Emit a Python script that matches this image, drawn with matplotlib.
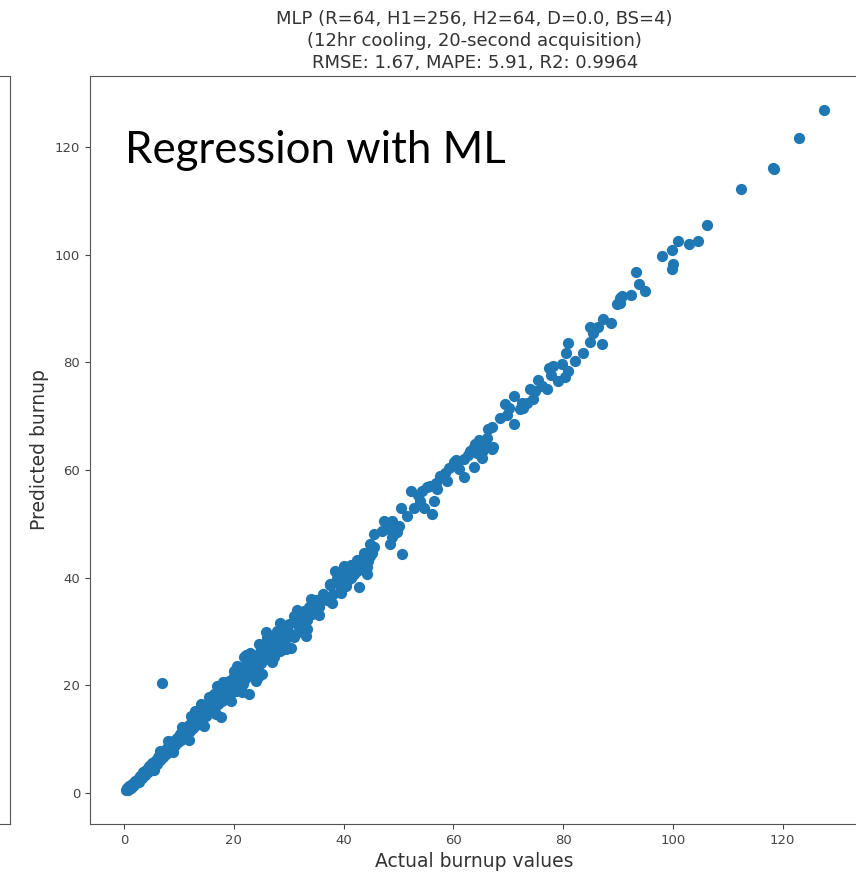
import numpy as np
import matplotlib.pyplot as plt

# actual vs predicted burnup
actual_low = [0.3, 0.5, 0.8, 1.0, 1.2, 1.5, 1.7, 2.0, 2.2, 2.5, 2.7, 3.0, 3.2, 3.5, 3.8, 4.0, 4.3, 4.6, 4.9,
              5.1, 5.4, 5.7, 6.0, 6.2, 6.5, 6.8, 7.1, 7.4, 7.6, 7.9, 8.2, 8.5, 8.8, 9.0, 9.3, 9.6, 9.9,
              10.2, 10.4, 10.7, 11.0, 11.3, 11.5, 11.8, 12.1, 12.4, 12.6, 12.9, 13.2, 13.5, 13.8, 14.0,
              14.3, 14.6, 14.9, 15.2, 15.5, 15.8, 16.0, 16.3, 16.6, 16.9, 17.2, 17.5, 17.8, 18.1, 18.4,
              18.7, 19.0, 19.3, 19.6, 19.9, 20.2, 20.5, 20.8, 21.1, 21.4, 21.7, 22.0, 22.3, 22.6, 22.9,
              23.2, 23.5, 23.8, 24.1, 24.4, 24.7, 25.0, 25.3, 25.6, 25.9, 26.2, 26.5, 26.8, 27.1, 27.4,
              27.7, 28.0, 28.3, 28.6, 28.9, 29.2, 29.5, 29.8, 30.1]
pred_low = [0.6, 0.9, 0.5, 1.3, 0.9, 1.7, 1.2, 2.2, 1.8, 2.6, 2.1, 3.2, 2.7, 3.8, 3.3, 4.3, 3.8, 4.9, 4.4,
            5.5, 4.9, 6.0, 5.4, 6.6, 6.1, 7.2, 6.6, 7.8, 7.2, 8.4, 7.7, 9.0, 8.3, 9.7, 8.9, 10.2, 9.4,
            10.9, 9.9, 11.4, 10.5, 12.1, 11.0, 12.6, 11.4, 13.3, 12.0, 13.9, 12.6, 14.5, 13.2, 15.1,
            13.7, 15.8, 14.3, 16.4, 14.8, 17.0, 15.4, 17.5, 15.9, 18.1, 16.5, 18.6, 17.0, 19.4, 17.6,
            20.1, 18.2, 20.5, 18.7, 21.4, 19.3, 21.8, 19.9, 22.5, 20.6, 23.1, 21.2, 23.6, 21.8, 24.3,
            22.4, 24.9, 23.0, 25.5, 23.6, 26.1, 24.2, 26.7, 24.8, 27.2, 25.4, 27.8, 26.0, 28.5, 26.6,
            29.1, 27.2, 29.6, 27.8, 30.2, 28.4, 30.8, 29.0, 31.3]

# points on the outer edges of the band
actual_edge = [5.5, 6.5, 8.0, 9.0, 10.5, 11.8, 13.0, 14.5, 15.5, 16.8, 18.0, 19.5, 20.5, 21.5, 23.0,
               24.5, 26.0, 27.0, 28.5, 29.5, 31.5, 32.5, 34.0, 35.5, 12.2, 17.0, 22.2, 25.8]
pred_edge = [4.3, 7.8, 9.6, 7.6, 12.3, 9.8, 15.2, 12.4, 17.8, 14.6, 20.5, 17.0, 23.5, 18.8, 26.0,
             21.6, 28.8, 24.4, 31.5, 26.8, 34.0, 29.8, 36.0, 33.0, 14.2, 19.8, 25.6, 29.9]

actual_band = [14.0, 14.9, 15.8, 16.4, 17.3, 17.6, 17.9, 18.9, 19.1, 20.1, 20.4, 20.7, 21.6, 21.6, 21.9,
               22.5, 22.8, 23.1, 23.7, 24.0, 24.6, 25.2, 25.8, 26.7, 27.3, 27.6, 27.9, 28.5, 29.1, 29.5,
               30.4, 31.0, 31.0, 31.9, 32.8, 33.1, 33.4, 33.4, 34.3, 35.5, 37.0, 37.6, 37.9, 38.5, 38.9,
               39.2, 39.5, 39.5, 40.1, 40.4, 40.7, 41.3, 41.3, 42.5, 42.8, 43.4, 43.7, 43.7, 44.3, 44.3,
               44.9, 44.9, 45.2, 45.5, 45.5,
               30.5, 31.2, 31.8, 32.4, 33.0, 33.7, 34.3, 35.0, 35.6, 36.2, 36.9, 37.5, 38.1, 38.8, 39.4,
               40.0, 40.6, 41.3, 41.9, 42.5, 43.1, 43.8, 44.4, 45.0]
pred_band = [16.5, 15.9, 17.1, 18.4, 19.6, 14.0, 17.4, 19.2, 20.8, 22.7, 19.0, 21.4, 23.3, 20.2, 25.2,
             21.7, 18.4, 23.3, 24.8, 20.8, 27.6, 22.1, 26.1, 27.0, 25.2, 28.3, 30.1, 26.4, 28.3, 30.4,
             27.0, 32.9, 28.9, 31.6, 33.8, 29.2, 32.2, 30.4, 34.8, 35.3, 36.3, 38.8, 35.3, 41.3, 40.6,
             39.4, 37.8, 37.2, 42.2, 38.5, 41.9, 40.3, 40.0, 41.3, 38.2, 42.8, 44.3, 42.5, 41.9, 40.6,
             46.2, 44.1, 44.6, 48.1, 45.6,
             29.6, 32.4, 30.9, 33.5, 31.8, 34.6, 33.2, 35.9, 34.5, 37.0, 35.8, 38.6, 37.0, 39.9, 38.4,
             41.0, 39.3, 42.3, 40.6, 43.2, 41.7, 44.6, 43.0, 45.8]

actual_mid = [47.0, 47.3, 48.2, 48.5, 48.8, 48.8, 49.8, 50.1, 50.4, 50.7, 51.6, 52.2, 52.8, 53.5, 54.0,
              54.3, 54.6, 55.2, 55.8, 56.1, 56.4, 56.8, 57.0, 57.5, 58.5, 58.8, 59.2, 60.1, 60.5, 60.7,
              61.0, 61.9, 61.9, 62.6, 63.1, 63.7, 63.7, 64.0, 64.3, 64.6, 65.2, 65.2, 65.5, 66.1, 66.4,
              67.0, 67.0, 67.3, 68.5, 69.5, 69.8, 70.2, 71.0, 71.0, 72.2, 72.5, 72.7, 73.4, 74.0, 74.6,
              74.9, 75.5, 76.1, 77.0, 77.5, 77.8, 78.2, 79.0, 79.8, 80.4, 80.5, 80.8, 80.8, 82.2, 83.7,
              84.9, 84.9, 85.5, 86.4, 87.0, 87.3, 88.8, 89.9]
pred_mid = [48.7, 50.6, 49.0, 46.2, 50.6, 47.5, 48.4, 49.6, 53.0, 44.3, 51.5, 56.1, 53.0, 55.3, 54.3,
            56.1, 53.0, 56.8, 57.1, 51.8, 54.3, 57.6, 56.4, 58.9, 59.5, 58.0, 60.3, 61.4, 61.9, 61.1,
            60.2, 62.0, 58.6, 62.8, 63.6, 60.5, 64.2, 64.8, 63.2, 65.5, 62.3, 63.3, 64.8, 66.0, 67.6,
            67.9, 63.9, 64.2, 69.7, 72.2, 70.3, 71.5, 73.8, 68.6, 71.3, 72.5, 71.5, 72.5, 75.0, 73.2,
            74.7, 76.8, 75.6, 75.0, 78.9, 77.7, 79.4, 76.6, 79.7, 77.2, 81.8, 78.4, 83.5, 80.3, 81.8,
            86.5, 83.7, 85.5, 86.5, 83.4, 88.0, 87.3, 90.9]

actual_high = [90.4, 90.4, 90.7, 92.3, 93.3, 93.8, 94.9, 98.1, 99.8, 99.9, 100.1, 100.9, 102.9, 104.5,
               106.2, 112.4, 118.2, 118.5, 123.0, 127.6]
pred_high = [92.0, 91.1, 92.4, 92.6, 96.7, 94.5, 93.3, 99.8, 100.9, 97.3, 98.2, 102.5, 102.0, 102.5,
             105.6, 112.3, 116.1, 116.0, 121.7, 126.8]

# the lone point far above the line
actual_out = [7.0]
pred_out = [20.4]

title_lines = ["MLP (R=64, H1=256, H2=64, D=0.0, BS=4)",
               "(12hr cooling, 20-second acquisition)",
               "RMSE: 1.67, MAPE: 5.91, R2: 0.9964"]
ticks = [0, 20, 40, 60, 80, 100, 120]


def main():
    x = np.array(actual_low + actual_edge + actual_band + actual_mid + actual_high + actual_out)
    y = np.array(pred_low + pred_edge + pred_band + pred_mid + pred_high + pred_out)

    fig = plt.figure(figsize=(8.56, 8.73), dpi=100)

    # right edge of the neighbouring subplot, cut off by the screenshot
    left = fig.add_axes([-0.5, 0.0561, 0.5117, 0.8568])
    left.set_xticks([])
    left.set_yticks([])
    for s in left.spines.values():
        s.set_color("#555555")

    ax = fig.add_axes([0.1051, 0.0561, 0.899, 0.8568])
    ax.scatter(x, y, s=50, color="#1f77b4", zorder=3)
    ax.set_xlim(-6.2, 134)
    ax.set_ylim(-5.8, 133.2)
    ax.set_xticks(ticks)
    ax.set_yticks(ticks)
    ax.tick_params(labelsize=9.5, colors="#444444", labelcolor="#444444")
    for s in ax.spines.values():
        s.set_color("#555555")
    ax.set_xlabel("Actual burnup values", fontsize=13.5, color="#333333")
    ax.set_ylabel("Predicted burnup", fontsize=13.5, color="#333333")
    ax.set_title("\n".join(title_lines), fontsize=13, color="#333333", linespacing=1.28)

    ax.text(0.045, 0.901, "Regression with ML", transform=ax.transAxes, fontsize=31.5,
            family=["Lato", "DejaVu Sans"], color="#000000", va="center", ha="left")

    plt.savefig("out.png", dpi=100)
    plt.close()


main()
